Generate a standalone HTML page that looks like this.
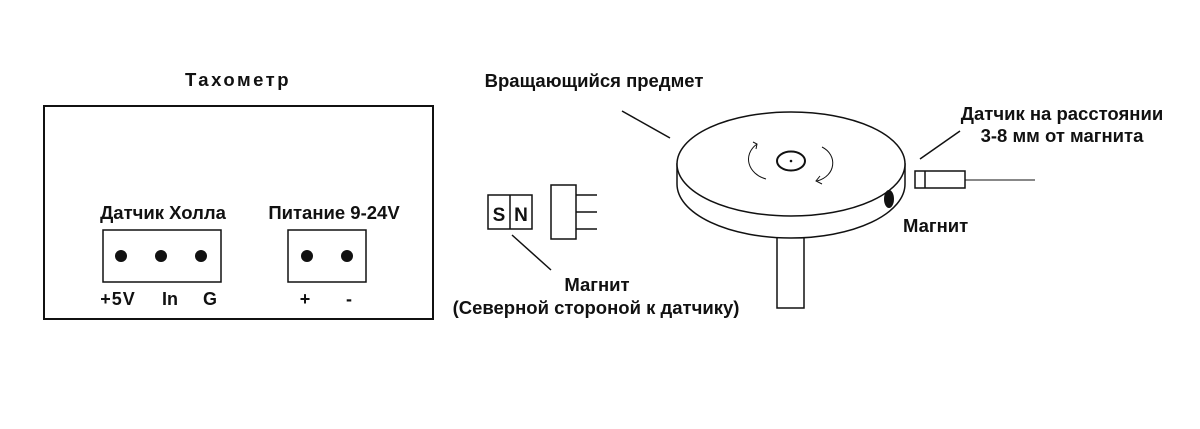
<!DOCTYPE html>
<html><head><meta charset="utf-8"><style>
html,body{margin:0;padding:0;background:#fff;width:1200px;height:429px;overflow:hidden}
svg text{font-family:"Liberation Sans","Noto Sans CJK SC",sans-serif;font-weight:bold;fill:#111}
</style></head><body>
<svg width="1200" height="429" viewBox="0 0 1200 429" xmlns="http://www.w3.org/2000/svg">
<g fill="none" stroke="#111" stroke-width="2">
<rect x="44" y="106" width="389" height="213"/>
<rect x="103" y="230" width="118" height="52" stroke-width="1.5"/>
<rect x="288" y="230" width="78" height="52" stroke-width="1.5"/>
</g>
<g fill="#111">
<circle cx="121" cy="256" r="6"/><circle cx="161" cy="256" r="6"/><circle cx="201" cy="256" r="6"/>
<circle cx="307" cy="256" r="6"/><circle cx="347" cy="256" r="6"/>
</g>
<text x="238" y="86" font-size="18.5" text-anchor="middle" letter-spacing="2.5">Тахометр</text>
<text x="163" y="219" font-size="18.5" text-anchor="middle">Датчик Холла</text>
<text x="334" y="219" font-size="18.5" text-anchor="middle">Питание 9-24V</text>
<text x="118" y="305" font-size="18" text-anchor="middle" letter-spacing="1">+5V</text>
<text x="170" y="305" font-size="18" text-anchor="middle">In</text>
<text x="210" y="305" font-size="18" text-anchor="middle">G</text>
<text x="305" y="305" font-size="18" text-anchor="middle">+</text>
<text x="349" y="305" font-size="18" text-anchor="middle">-</text>

<g fill="none" stroke="#111" stroke-width="1.5">
<rect x="488" y="195" width="44" height="34"/>
<line x1="510" y1="195" x2="510" y2="229"/>
<rect x="551" y="185" width="25" height="54"/>
<line x1="576" y1="195" x2="597" y2="195"/>
<line x1="576" y1="212" x2="597" y2="212"/>
<line x1="576" y1="229" x2="597" y2="229"/>
<line x1="512" y1="235" x2="551" y2="270"/>
</g>
<text x="499" y="221" font-size="19" text-anchor="middle">S</text>
<text x="521" y="221" font-size="19" text-anchor="middle">N</text>
<text x="597" y="291" font-size="18.5" text-anchor="middle">Магнит</text>
<text x="596" y="314" font-size="18.5" text-anchor="middle">(Северной стороной к датчику)</text>

<g fill="#fff" stroke="#111" stroke-width="1.5">
<rect x="777" y="232" width="27" height="76"/>
<path d="M677,164 L677,184 A114,54 0 0 0 905,184 L905,164 Z"/>
<ellipse cx="791" cy="164" rx="114" ry="52"/>
<ellipse cx="791" cy="161" rx="14" ry="9.5" stroke-width="2"/>
</g>
<circle cx="791" cy="161" r="1.3" fill="#111"/>
<ellipse cx="889" cy="199" rx="5" ry="9" fill="#111"/>
<g fill="none" stroke="#111" stroke-width="1">
<path d="M766,179 C748,174 742,155 757,144"/>
<path d="M753,142 L757,144 L756,149"/>
<path d="M822,147 C838,155 836,176 817,181"/>
<path d="M820,176 L816,181 L822,184"/>
</g>
<g fill="none" stroke="#111" stroke-width="1.5">
<rect x="915" y="171" width="50" height="17"/>
<line x1="925" y1="171" x2="925" y2="188"/>
<line x1="965" y1="180" x2="1035" y2="180" stroke-width="1"/>
<line x1="920" y1="159" x2="960" y2="131"/>
<line x1="622" y1="111" x2="670" y2="138"/>
</g>
<text x="594" y="87" font-size="18.5" text-anchor="middle">Вращающийся предмет</text>
<text x="1062" y="120" font-size="18.5" text-anchor="middle">Датчик на расстоянии</text>
<text x="1062" y="142" font-size="18.5" text-anchor="middle">3-8 мм от магнита</text>
<text x="903" y="232" font-size="18.5">Магнит</text>
</svg>
</body></html>
